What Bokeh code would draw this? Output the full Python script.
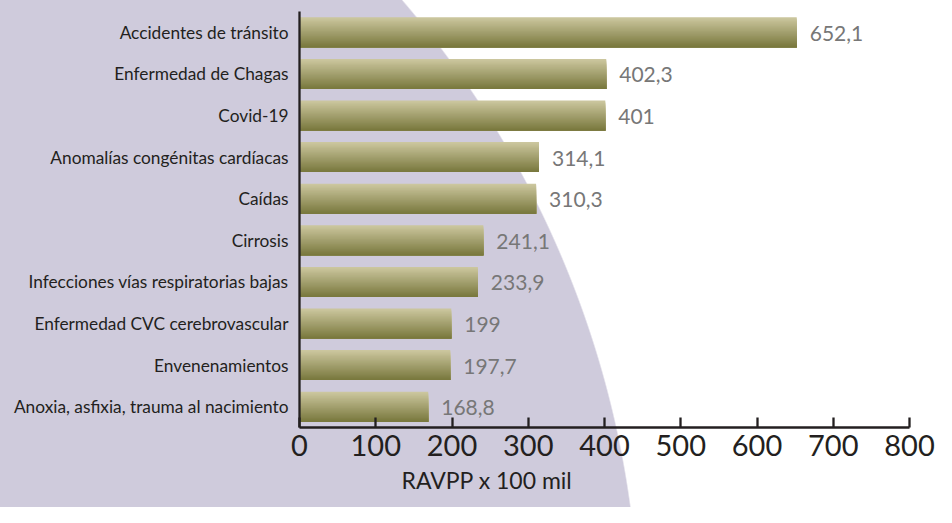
from bokeh.plotting import figure
from bokeh.models import ColumnDataSource, FactorRange, Range1d, FixedTicker, Title
from bokeh.transform import dodge
from bokeh.core.properties import value
from bokeh.embed import file_html
from bokeh.resources import INLINE

# ---- data ----
categories = [
    "Accidentes de tránsito",
    "Enfermedad de Chagas",
    "Covid-19",
    "Anomalías congénitas cardíacas",
    "Caídas",
    "Cirrosis",
    "Infecciones vías respiratorias bajas",
    "Enfermedad CVC cerebrovascular",
    "Envenenamientos",
    "Anoxia, asfixia, trauma al nacimiento",
]
values = [652.1, 402.3, 401, 314.1, 310.3, 241.1, 233.9, 199, 197.7, 168.8]
value_labels = ["652,1", "402,3", "401", "314,1", "310,3", "241,1", "233,9", "199", "197,7", "168,8"]
x_ticks = [0, 100, 200, 300, 400, 500, 600, 700, 800]
axis_title = "RAVPP x 100 mil"

FONT = "Lato"
DARK = "#231f20"

src = ColumnDataSource(dict(cat=categories, val=values, lab=value_labels))

p = figure(
    width=936, height=507,
    output_backend="svg", toolbar_location=None,
    y_range=FactorRange(factors=categories[::-1]),
    x_range=Range1d(0, 800),
    min_border_left=299, min_border_right=27, min_border_top=11, min_border_bottom=80,
)
p.border_fill_color = None
p.background_fill_color = None
p.outline_line_color = None
p.grid.visible = False
p.styles = {
    "background": "radial-gradient(ellipse 1002px 988px at -362px 638px, #cfcbdc 99.85%, #ffffff 100%)"
}

# gradient bars: stacked bottom-anchored strips, lightest on top
N = 24
H = 0.72
top = (205, 200, 160)
bot = (120, 119, 60)
for j in range(N):
    h = H * (1 - j / N)
    off = -H / 2 + h / 2
    t = (j + 0.5) / N
    c = tuple(int(round(top[k] + (bot[k] - top[k]) * t)) for k in range(3))
    color = "#%02x%02x%02x" % c
    p.hbar(y=dodge("cat", off, range=p.y_range), left=0, right="val", height=h,
           source=src, fill_color=color, line_color=None)

p.text(x="val", y="cat", text="lab", source=src, x_offset=13, y_offset=1,
       text_baseline="middle", text_align="left",
       text_font=value(FONT), text_font_size="21px", text_color="#777777")

# axes
xa = p.xaxis[0]
xa.ticker = FixedTicker(ticks=x_ticks)
xa.major_tick_in = 10
xa.major_tick_out = 0
xa.minor_tick_line_color = None
xa.axis_line_width = 2.3
xa.axis_line_color = DARK
xa.major_tick_line_width = 2.3
xa.major_tick_line_color = DARK
xa.major_label_text_font = FONT
xa.major_label_text_font_size = "29px"
xa.major_label_text_color = DARK
xa.major_label_standoff = 7

ya = p.yaxis[0]
ya.major_tick_in = 0
ya.major_tick_out = 0
ya.minor_tick_line_color = None
ya.axis_line_width = 2.3
ya.axis_line_color = DARK
ya.major_label_text_font = FONT
ya.major_label_text_font_size = "17.3px"
ya.major_label_text_color = DARK
ya.major_label_standoff = 11

# axis title, placed below the axis and shifted left like the reference
p.add_layout(Title(text=axis_title, align="left", offset=102, standoff=10,
                   vertical_align="bottom",
                   text_font=FONT, text_font_size="23px", text_font_style="normal",
                   text_color=DARK), "below")

open("out.html", "w").write(file_html(p, INLINE))
